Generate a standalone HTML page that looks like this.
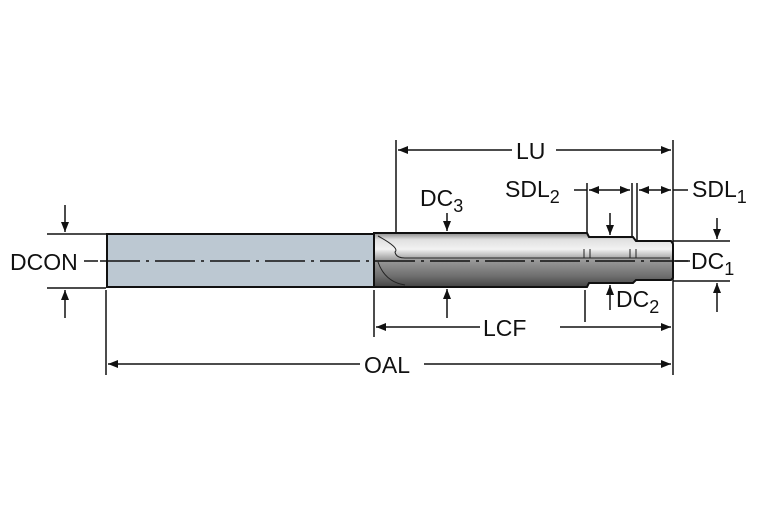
<!DOCTYPE html>
<html><head><style>body{margin:0;background:#fff}svg{display:block}text{font-family:"Liberation Sans",sans-serif;font-size:23px;fill:#111}</style></head><body>
<svg width="767" height="523" viewBox="0 0 767 523">
<defs>
<linearGradient id="g" x1="0" y1="0" x2="0" y2="1">
<stop offset="0" stop-color="#8a8a8a"/><stop offset="0.12" stop-color="#e0e0e0"/><stop offset="0.3" stop-color="#f2f2f2"/><stop offset="0.5" stop-color="#9a9a9a"/><stop offset="0.8" stop-color="#6e6e6e"/><stop offset="1" stop-color="#444"/>
</linearGradient>
<marker id="a" markerWidth="10" markerHeight="8" refX="10" refY="4" orient="auto" markerUnits="userSpaceOnUse"><path d="M0,0 L10,4 L0,8 Z" fill="#111"/></marker>
</defs>
<rect x="107" y="234" width="267" height="53" fill="#bcc8d2" stroke="#111" stroke-width="2"/>
<path d="M374,233 L587,233 L589,237 L633,237 L636,241 L671,241 L673,244 L673,278 L671,280 L636,280 L633,283 L589,283 L587,287 L374,287 Z" fill="url(#g)" stroke="#111" stroke-width="2"/>
<path d="M378,236 Q400,248 395,252 Q396,258 405,258 L670,258 M378,262 Q385,282 405,285" fill="none" stroke="#222" stroke-width="1"/>
<line x1="584" y1="249" x2="584" y2="258" stroke="#222"/><line x1="590" y1="249" x2="590" y2="258" stroke="#222"/>
<line x1="630" y1="249" x2="630" y2="258" stroke="#222"/><line x1="636" y1="249" x2="636" y2="258" stroke="#222"/>
<line x1="100" y1="261" x2="690" y2="261" stroke="#111" stroke-width="1.5" stroke-dasharray="40,6,3,6"/>
<g stroke="#111" stroke-width="1.5" fill="none">
<line x1="396" y1="140" x2="396" y2="233"/>
<line x1="673" y1="140" x2="673" y2="375"/>
<line x1="106" y1="290" x2="106" y2="375"/>
<line x1="374" y1="290" x2="374" y2="337"/>
<line x1="585" y1="290" x2="585" y2="322"/>
<line x1="587" y1="183" x2="587" y2="233"/>
<line x1="632" y1="183" x2="632" y2="236"/>
<line x1="637" y1="183" x2="637" y2="240"/>
<line x1="47" y1="234" x2="106" y2="234"/><line x1="47" y1="288" x2="106" y2="288"/>
<line x1="673" y1="241" x2="730" y2="241"/><line x1="673" y1="281" x2="730" y2="281"/>
<line x1="512" y1="150" x2="398" y2="150" marker-end="url(#a)"/>
<line x1="556" y1="150" x2="671" y2="150" marker-end="url(#a)"/>
<line x1="574" y1="190" x2="587" y2="190"/>
<line x1="610" y1="190" x2="589" y2="190" marker-end="url(#a)"/>
<line x1="610" y1="190" x2="630" y2="190" marker-end="url(#a)"/>
<line x1="655" y1="190" x2="639" y2="190" marker-end="url(#a)"/>
<line x1="655" y1="190" x2="671" y2="190" marker-end="url(#a)"/>
<line x1="673" y1="190" x2="688" y2="190"/>
<line x1="480" y1="327" x2="376" y2="327" marker-end="url(#a)"/>
<line x1="560" y1="327" x2="671" y2="327" marker-end="url(#a)"/>
<line x1="360" y1="364" x2="108" y2="364" marker-end="url(#a)"/>
<line x1="424" y1="364" x2="671" y2="364" marker-end="url(#a)"/>
<line x1="65" y1="205" x2="65" y2="232" marker-end="url(#a)"/>
<line x1="65" y1="318" x2="65" y2="290" marker-end="url(#a)"/>
<line x1="447" y1="213" x2="447" y2="231" marker-end="url(#a)"/>
<line x1="447" y1="318" x2="447" y2="289" marker-end="url(#a)"/>
<line x1="610" y1="213" x2="610" y2="235" marker-end="url(#a)"/>
<line x1="610" y1="310" x2="610" y2="285" marker-end="url(#a)"/>
<line x1="717" y1="218" x2="717" y2="239" marker-end="url(#a)"/>
<line x1="717" y1="312" x2="717" y2="283" marker-end="url(#a)"/>
<line x1="84" y1="261" x2="98" y2="261"/>
<line x1="675" y1="261" x2="688" y2="261"/>
</g>
<text x="10" y="270">DCON</text>
<text x="516" y="159">LU</text>
<text x="505" y="197">SDL<tspan font-size="18" dy="6">2</tspan></text>
<text x="692" y="197">SDL<tspan font-size="18" dy="6">1</tspan></text>
<text x="420" y="206">DC<tspan font-size="18" dy="6">3</tspan></text>
<text x="691" y="269">DC<tspan font-size="18" dy="6">1</tspan></text>
<text x="616" y="307">DC<tspan font-size="18" dy="6">2</tspan></text>
<text x="483" y="336">LCF</text>
<text x="364" y="373">OAL</text>
</svg>
</body></html>
